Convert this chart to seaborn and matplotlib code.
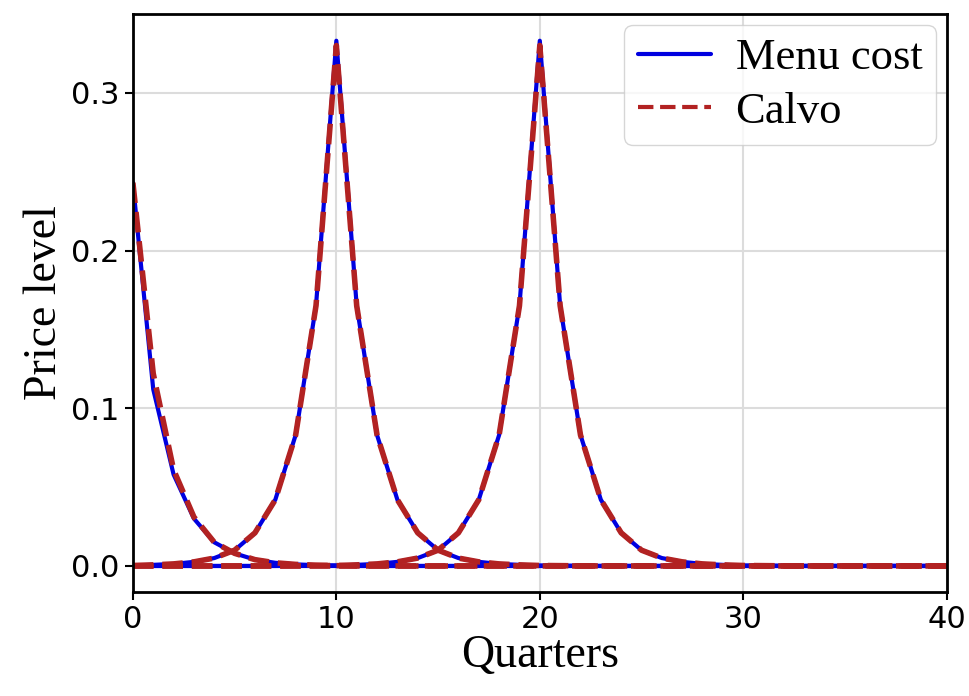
import matplotlib
matplotlib.use("Agg")
import matplotlib.pyplot as plt
import seaborn as sns
import numpy as np

sns.set_style("whitegrid")

# DATA HERE
quarters = list(range(41))

menu_zero = [0.0] * 41
menu_start = [0.243, 0.112, 0.058, 0.030, 0.015, 0.008, 0.004, 0.002, 0.001, 0.0005, 0.0002] + [0.0] * 30
menu_peak10 = [0.0003, 0.0007, 0.0013, 0.0026, 0.005, 0.010, 0.021, 0.042, 0.083, 0.165, 0.333,
               0.165, 0.083, 0.042, 0.021, 0.010, 0.005, 0.0026, 0.0013, 0.0007, 0.0003,
               0.0002, 0.0001] + [0.0] * 18
menu_peak20 = [0.0] * 8 + [0.0001, 0.0002, 0.0003, 0.0007, 0.0013, 0.0026, 0.005, 0.010, 0.021,
                           0.042, 0.083, 0.165, 0.333, 0.165, 0.083, 0.042, 0.021, 0.010, 0.005,
                           0.0026, 0.0013, 0.0007, 0.0003, 0.0002, 0.0001] + [0.0] * 8

calvo_zero = [0.0] * 41
calvo_start = [0.243, 0.122, 0.061, 0.031, 0.015, 0.008, 0.004, 0.002, 0.001, 0.0005, 0.0002] + [0.0] * 30
calvo_peak10 = [0.0003, 0.0007, 0.0013, 0.0026, 0.005, 0.010, 0.021, 0.042, 0.083, 0.165, 0.330,
                0.165, 0.083, 0.042, 0.021, 0.010, 0.005, 0.0026, 0.0013, 0.0007, 0.0003,
                0.0002, 0.0001] + [0.0] * 18
calvo_peak20 = [0.0] * 8 + [0.0001, 0.0002, 0.0003, 0.0007, 0.0013, 0.0026, 0.005, 0.010, 0.021,
                            0.042, 0.083, 0.165, 0.330, 0.165, 0.083, 0.042, 0.021, 0.010, 0.005,
                            0.0026, 0.0013, 0.0007, 0.0003, 0.0002, 0.0001] + [0.0] * 8

menu_series = [menu_zero, menu_start, menu_peak10, menu_peak20]
calvo_series = [calvo_zero, calvo_start, calvo_peak10, calvo_peak20]

fig, ax = plt.subplots(figsize=(9.7, 6.96), dpi=100)

for i, s in enumerate(menu_series):
    sns.lineplot(x=quarters, y=s, color='#0000e0', linewidth=3,
                 label='Menu cost' if i == 0 else None, ax=ax)
for i, s in enumerate(calvo_series):
    sns.lineplot(x=quarters, y=s, color='#b22222', linewidth=4, linestyle='--',
                 dashes=(3, 2.2), label='Calvo' if i == 0 else None, ax=ax)

ax.set_xlim(0, 40)
ax.set_ylim(-0.0167, 0.35)
ax.set_xticks([0, 10, 20, 30, 40])
ax.set_yticks([0.0, 0.1, 0.2, 0.3])

ax.grid(color='#dcdcdc', linewidth=1.5)
for sp in ax.spines.values():
    sp.set_color('black')
    sp.set_linewidth(2)
ax.tick_params(axis='both', which='major', direction='out', length=6, width=1.5,
               color='black', labelcolor='black', left=True, bottom=True, labelsize=22)
for lbl in ax.get_xticklabels() + ax.get_yticklabels():
    lbl.set_family('DejaVu Sans')

ax.set_xlabel('Quarters', fontsize=33, family='Liberation Serif', color='black', labelpad=0)
ax.set_ylabel('Price level', fontsize=33, family='Liberation Serif', color='black', labelpad=4)

leg = ax.legend(loc='upper right', prop={'family': 'Liberation Serif', 'size': 32},
                handlelength=1.65, handletextpad=0.55, labelspacing=0.3,
                fancybox=True, framealpha=0.8, borderaxespad=0.25, borderpad=0.3)
leg.get_frame().set_edgecolor('#cccccc')
for t in leg.get_texts():
    t.set_color('black')
leg.get_lines()[1].set_linewidth(3)

fig.subplots_adjust(left=0.137, right=0.976, top=0.98, bottom=0.149)
fig.savefig('out.png', dpi=100)
